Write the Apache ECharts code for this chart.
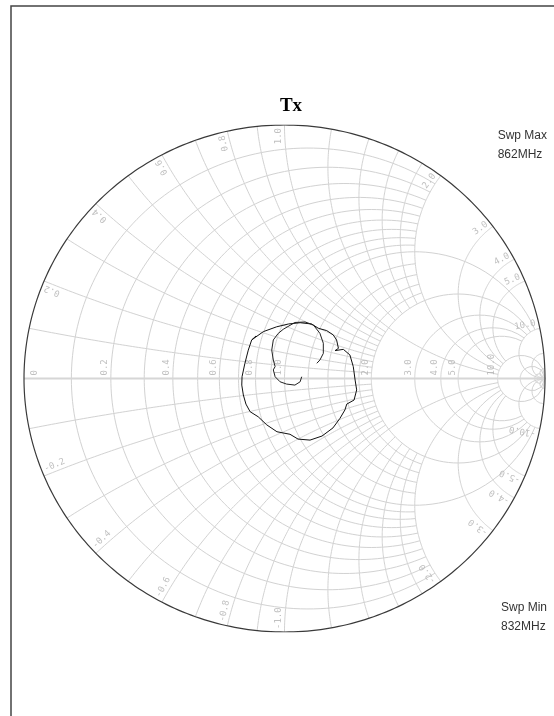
<!DOCTYPE html>
<html>
<head>
<meta charset="utf-8">
<script src="https://cdn.jsdelivr.net/npm/echarts@6/dist/echarts.min.js"></script>
<style>
  html, body { margin: 0; padding: 0; background: #fff; }
  #chart { width: 554px; height: 716px; }
</style>
</head>
<body>
<div id="chart"></div>
<script>
// smith grid values
var rMinor = [0.1, 0.2, 0.3, 0.4, 0.5, 0.6, 0.7, 0.8, 0.9, 1.2, 1.4, 1.6, 1.8]; // clipped at |x| = 2
var rMajor = [1, 2, 3, 4, 5];                                                 // clipped at |x| = 10
var rOuter = [10, 20, 50];                                                     // full circles
var xMinor = [0.1, 0.2, 0.3, 0.4, 0.5, 0.6, 0.7, 0.8, 0.9, 1.2, 1.4, 1.6, 1.8]; // clipped at r = 2
var xMajor = [1, 2, 3, 4, 5];                                                 // clipped at r = 10
var xOuter = [10, 20, 50];                                                     // full arcs
var rTickLabels = [0.2, 0.4, 0.6, 0.8, 1, 2, 3, 4, 5, 10];
var xTickLabels = [0.2, 0.4, 0.6, 0.8, 1, 2, 3, 4, 5, 10];

// reflection coefficient (re, im)
var traceOuter = [
  [-0.126, 0.152], [-0.081, 0.185], [-0.030, 0.204], [0.015, 0.215], [0.060, 0.220],
  [0.104, 0.215], [0.130, 0.198], [0.162, 0.189], [0.187, 0.172], [0.200, 0.152],
  [0.207, 0.119], [0.194, 0.110], [0.226, 0.115], [0.251, 0.093], [0.264, 0.047],
  [0.271, -0.006], [0.277, -0.045], [0.267, -0.085], [0.239, -0.101], [0.232, -0.124],
  [0.213, -0.157], [0.186, -0.195], [0.144, -0.227], [0.098, -0.243], [0.052, -0.239],
  [0.021, -0.220], [-0.029, -0.210], [-0.068, -0.183], [-0.101, -0.151], [-0.132, -0.131],
  [-0.148, -0.101], [-0.158, -0.065], [-0.164, -0.026], [-0.163, 0.007], [-0.152, 0.060],
  [-0.139, 0.112], [-0.126, 0.152], [-0.109, 0.168]
];
var traceInner = [
  [0.124, 0.060], [0.136, 0.073], [0.149, 0.099], [0.149, 0.139], [0.136, 0.178],
  [0.111, 0.211], [0.079, 0.223], [0.040, 0.221], [-0.005, 0.194], [-0.024, 0.178],
  [-0.043, 0.152], [-0.049, 0.112], [-0.043, 0.073], [-0.036, 0.047], [-0.043, 0.034],
  [-0.036, 0.007], [-0.017, -0.013], [0.008, -0.022], [0.040, -0.026], [0.060, -0.013],
  [0.066, 0.007]
];

// chart frame
var cx = 284.5, cy = 378.5, rx = 260.5, ry = 253.5;

function gamma(r, x) {
  var d = (r + 1) * (r + 1) + x * x;
  return [(r * r + x * x - 1) / d, 2 * x / d];
}

function rCircle(r, xmax) {
  var pts = [], a = Math.atan(xmax), n = 160;
  for (var i = 0; i <= n; i++) {
    var t = -a + 2 * a * i / n;
    pts.push(gamma(r, Math.tan(t)));
  }
  return pts;
}

function xArc(x, rmax) {
  var pts = [], a = Math.atan(rmax), n = 120;
  for (var i = 0; i <= n; i++) {
    pts.push(gamma(Math.tan(a * i / n), x));
  }
  return pts;
}

var gridLines = [];
rMinor.forEach(function (r) { gridLines.push({ coords: rCircle(r, 2) }); });
rMajor.forEach(function (r) { gridLines.push({ coords: rCircle(r, 10) }); });
rOuter.forEach(function (r) { gridLines.push({ coords: rCircle(r, 1e6) }); });
[[xMinor, 2], [xMajor, 10], [xOuter, 1e6]].forEach(function (g) {
  g[0].forEach(function (x) {
    gridLines.push({ coords: xArc(x, g[1]) });
    gridLines.push({ coords: xArc(-x, g[1]) });
  });
});

var outer = [];
for (var i = 0; i <= 360; i++) {
  outer.push([Math.cos(i * Math.PI / 180), Math.sin(i * Math.PI / 180)]);
}

// tick labels
var labels = [];
labels.push({ name: '0', value: [-1 + 11 / rx, 3 / ry],
  label: { rotate: 90, align: 'left', verticalAlign: 'middle' } });
rTickLabels.forEach(function (r) {
  var g = (r - 1) / (r + 1);
  labels.push({ name: r.toFixed(1), value: [g - 1.5 / rx, 3 / ry],
    label: { rotate: 90, align: 'left', verticalAlign: 'bottom' } });
});
xTickLabels.forEach(function (v) {
  [v, -v].forEach(function (s) {
    var g = gamma(0, s);
    var th = Math.atan2(g[1], g[0]);
    var ax = (rx - 3) * Math.cos(th), ay = (ry - 3) * Math.sin(th);
    var tx = s > 0 ? -Math.sin(th) : Math.sin(th);
    var ty = s > 0 ? Math.cos(th) : -Math.cos(th);
    ax += 1.5 * tx; ay += 1.5 * ty;
    var deg = th * 180 / Math.PI;
    labels.push({ name: s.toFixed(1), value: [ax / rx, ay / ry],
      label: { rotate: s > 0 ? deg : deg + 180, align: s > 0 ? 'right' : 'left', verticalAlign: 'bottom' } });
  });
});

var chart = echarts.init(document.getElementById('chart'));
chart.setOption({
  animation: false,
  backgroundColor: '#fff',
  title: {
    text: 'Tx', left: 286, top: 92, textAlign: 'center',
    textStyle: { fontFamily: 'Liberation Serif', fontWeight: 'bold', fontSize: 19, color: '#000' }
  },
  graphic: [
    { type: 'rect', shape: { x: 11, y: 6, width: 700, height: 800 },
      style: { fill: 'none', stroke: '#444', lineWidth: 1.5 }, silent: true },
    { type: 'text', right: 7, top: 126,
      style: { text: 'Swp Max\n862MHz', align: 'right', fill: '#333', font: '12px Liberation Sans', lineHeight: 19 } },
    { type: 'text', right: 7, top: 598,
      style: { text: 'Swp Min\n832MHz', align: 'right', fill: '#333', font: '12px Liberation Sans', lineHeight: 19 } }
  ],
  grid: { left: cx - rx, top: cy - ry, width: 2 * rx, height: 2 * ry },
  xAxis: { type: 'value', min: -1, max: 1, show: false },
  yAxis: { type: 'value', min: -1, max: 1, show: false },
  series: [
    {
      type: 'lines', coordinateSystem: 'cartesian2d', polyline: true, silent: true,
      lineStyle: { color: '#d2d2d2', width: 1, opacity: 1 },
      data: gridLines
    },
    {
      type: 'lines', coordinateSystem: 'cartesian2d', polyline: true, silent: true,
      lineStyle: { color: '#d6d6d6', width: 2, opacity: 1 },
      data: [{ coords: [[-1, 0], [1, 0]] }]
    },
    {
      type: 'lines', coordinateSystem: 'cartesian2d', polyline: true, silent: true,
      lineStyle: { color: '#3a3a3a', width: 1.2, opacity: 1 },
      data: [{ coords: outer }]
    },
    {
      type: 'scatter', symbolSize: 0, silent: true,
      label: {
        show: true, position: 'inside', formatter: '{b}',
        color: '#b0b0b0', fontSize: 9, fontFamily: 'DejaVu Sans Mono'
      },
      data: labels
    },
    {
      type: 'line', data: traceOuter, showSymbol: false, silent: true,
      lineStyle: { color: '#111', width: 1 }
    },
    {
      type: 'line', data: traceInner, showSymbol: false, silent: true,
      lineStyle: { color: '#222', width: 1 }
    }
  ]
});
</script>
</body>
</html>
